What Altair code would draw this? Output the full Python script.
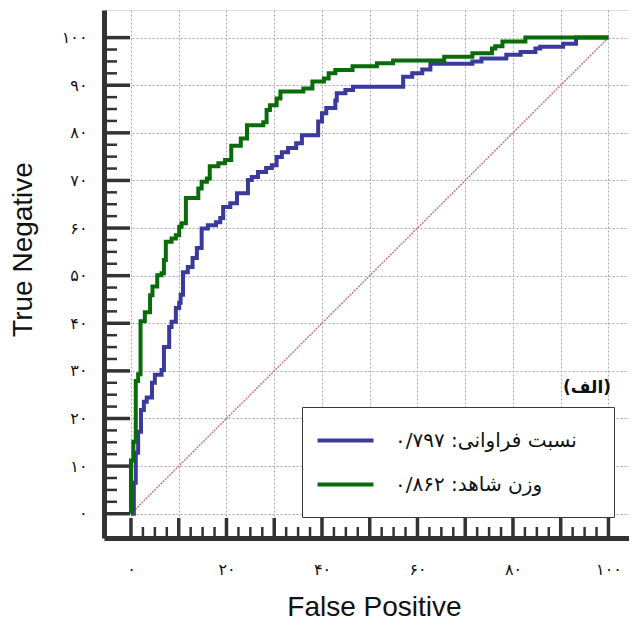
import altair as alt
import pandas as pd

# ---- data ----
fp_freq = [0, 0.6, 1.0, 1.5, 2.1, 2.7, 3.3, 4.4, 5.0, 6.4, 6.9, 8.0, 8.5, 9.4, 10.1, 10.4,
           10.9, 11.9, 12.9, 13.8, 14.8, 16.1, 17.8, 18.7, 19.3, 20.8, 22.2, 24.5, 25.3,
           26.6, 28.3, 29.5, 30.5, 31.6, 32.9, 34.6, 35.8, 39.2, 40.0, 40.9, 42.8, 43.1,
           44.9, 46.5, 57.0, 58.9, 61.0, 62.7, 71.5, 73.4, 78.6, 81.6, 84.7, 85.7, 90.5,
           93.2, 100]
tn_freq = [0, 6.5, 12.8, 17.2, 21.8, 23.5, 24.4, 27.5, 29.2, 30.2, 35.0, 39.2, 40.3, 43.2,
           44.3, 46.0, 50.7, 51.8, 53.7, 55.8, 59.9, 60.6, 61.2, 62.1, 64.4, 65.2, 67.3,
           70.1, 70.7, 71.8, 72.6, 73.2, 74.9, 75.9, 76.8, 77.8, 79.5, 82.4, 84.1, 85.2,
           86.8, 88.3, 89.0, 89.7, 91.8, 92.5, 93.3, 94.5, 95.0, 95.6, 96.4, 97.0, 97.7,
           98.1, 98.7, 100, 100]

fp_woe = [0, 0, 0.5, 1.0, 1.5, 2.0, 2.9, 4.0, 4.5, 5.5, 6.4, 6.9, 7.3, 8.5, 9.4, 10.1, 10.6,
          11.5, 14.1, 14.8, 15.9, 16.5, 18.3, 19.7, 21.0, 23.0, 24.3, 27.7, 28.4, 29.1,
          30.5, 31.3, 36.1, 38.0, 40.4, 41.4, 42.8, 46.4, 51.5, 54.9, 65.6, 71.5, 75.6,
          76.3, 77.8, 82.6, 100]
tn_woe = [0, 11.2, 15.1, 27.9, 29.3, 40.4, 42.3, 45.9, 47.7, 50.1, 50.5, 53.3, 57.1, 57.8,
          58.5, 60.3, 61.0, 66.3, 68.3, 69.7, 70.4, 73.0, 73.6, 74.3, 77.3, 78.8, 81.6,
          82.2, 84.8, 85.8, 87.2, 88.7, 89.3, 90.8, 91.4, 92.5, 93.2, 94.0, 94.6, 95.2,
          96.0, 96.7, 97.7, 98.2, 99.2, 100, 100]

diag_x = [0, 100]
diag_y = [0, 100]

series_names = ["نسبت فراوانی: ۰/۷۹۷", "وزن شاهد: ۰/۸۶۲"]
series_colors = ["#3a3a9c", "#0a6b0a"]
panel_label = ["(الف)"]

x_tick_values = [0, 10, 20, 30, 40, 50, 60, 70, 80, 90, 100]
x_tick_labels = ["۰", "", "۲۰", "", "۴۰", "", "۶۰", "", "۸۰", "", "۱۰۰"]
y_tick_values = [0, 10, 20, 30, 40, 50, 60, 70, 80, 90, 100]
y_tick_labels = ["۰", "۱۰", "۲۰", "۳۰", "۴۰", "۵۰", "۶۰", "۷۰", "۸۰", "۹۰", "۱۰۰"]
minor_tick_values = [v * 2.5 for v in range(41) if v % 4 != 0]

# ---- tables ----
pad = "\u2800"  # blank glyph that widens the legend box on its right side
legend_names = [n + pad for n in series_names]
df = pd.concat([
    pd.DataFrame({"fp": fp_freq, "tn": tn_freq, "s": legend_names[0], "o": 0}),
    pd.DataFrame({"fp": fp_woe, "tn": tn_woe, "s": legend_names[1], "o": 1}),
])
diag = pd.DataFrame({"fp": diag_x, "tn": diag_y})
major = pd.DataFrame({"v": x_tick_values})
minor = pd.DataFrame({"v": minor_tick_values})
lab = pd.DataFrame({"t": panel_label})


def label_expr(values, labels):
    expr = "''"
    for v, l in reversed(list(zip(values, labels))):
        expr = f"datum.value == {v} ? '{l}' : ({expr})"
    return expr


W, H = 525, 528
xs = alt.Scale(domain=[-5.65, 104.3], nice=False, zero=False)
ys = alt.Scale(domain=[-5.1, 105.8], nice=False, zero=False)

AX = dict(domainWidth=5, domainColor="#333333", ticks=False, grid=True,
          gridDash=[2, 2], gridColor="#a8a8a8", gridWidth=1,
          labelFont="DejaVu Sans", labelFontSize=16, labelColor="#111111",
          titleFont="Liberation Sans", titleFontSize=28, titleFontWeight="normal",
          titleColor="#111111")

x_axis = alt.Axis(values=x_tick_values, labelExpr=label_expr(x_tick_values, x_tick_labels),
                  labelPadding=23, title="False Positive", titleX=270, titleY=77,
                  titleAnchor="middle", titleAlign="center", titleBaseline="alphabetic",
                  **AX)
y_axis = alt.Axis(values=y_tick_values, labelExpr=label_expr(y_tick_values, y_tick_labels),
                  labelPadding=17, title="True Negative", titleX=-73, titleY=239,
                  titleAngle=270, titleAlign="center", titleBaseline="alphabetic", **AX)

diag_layer = alt.Chart(diag).mark_line(color="#c47c7c", strokeWidth=1.5,
                                       strokeDash=[2, 1]).encode(
    x=alt.X("fp:Q", scale=xs, axis=x_axis),
    y=alt.Y("tn:Q", scale=ys, axis=y_axis),
)

curves = alt.Chart(df).mark_line(interpolate="step-after", strokeWidth=4).encode(
    x=alt.X("fp:Q", scale=xs),
    y=alt.Y("tn:Q", scale=ys),
    color=alt.Color("s:N", sort=legend_names,
                    scale=alt.Scale(domain=legend_names, range=series_colors),
                    legend=alt.Legend(orient="none", legendX=198, legendY=397, title=None,
                                      symbolType="M-3,0H3", symbolSize=348,
                                      symbolStrokeWidth=4, symbolOffset=10,
                                      labelFont="DejaVu Sans",
                                      labelFontSize=20, labelColor="#111111", labelLimit=500,
                                      labelOffset=38, rowPadding=22, padding=22,
                                      strokeColor="#3a3a3a", fillColor="white")),
    order="o:Q",
    detail="s:N",
)

ymaj = alt.Chart(major).mark_rule(color="#333333", strokeWidth=3.5).encode(
    y=alt.Y("v:Q", scale=ys), x=alt.value(0), x2=alt.value(26))
ymin = alt.Chart(minor).mark_rule(color="#333333", strokeWidth=2.5).encode(
    y=alt.Y("v:Q", scale=ys), x=alt.value(0), x2=alt.value(13))
xmaj = alt.Chart(major).mark_rule(color="#333333", strokeWidth=3.5).encode(
    x=alt.X("v:Q", scale=xs), y=alt.value(H), y2=alt.value(H - 20))
xmin = alt.Chart(minor).mark_rule(color="#333333", strokeWidth=2.5).encode(
    x=alt.X("v:Q", scale=xs), y=alt.value(H), y2=alt.value(H - 11))

tag = alt.Chart(lab).mark_text(align="right", baseline="middle", font="DejaVu Sans",
                               fontSize=17, fontWeight="bold", color="#111111").encode(
    text="t:N", x=alt.value(507), y=alt.value(378))

chart = alt.layer(diag_layer, ymaj, ymin, xmaj, xmin, curves, tag).properties(
    width=W, height=H,
    autosize=alt.AutoSizeParams(type="none"),
    padding={"left": 96, "top": 2, "right": 0, "bottom": 84},
).configure_view(stroke=None).configure_legend(strokeWidth=2).configure(background="white")

chart.save("out.html", embed_options={"renderer": "svg", "actions": False})
